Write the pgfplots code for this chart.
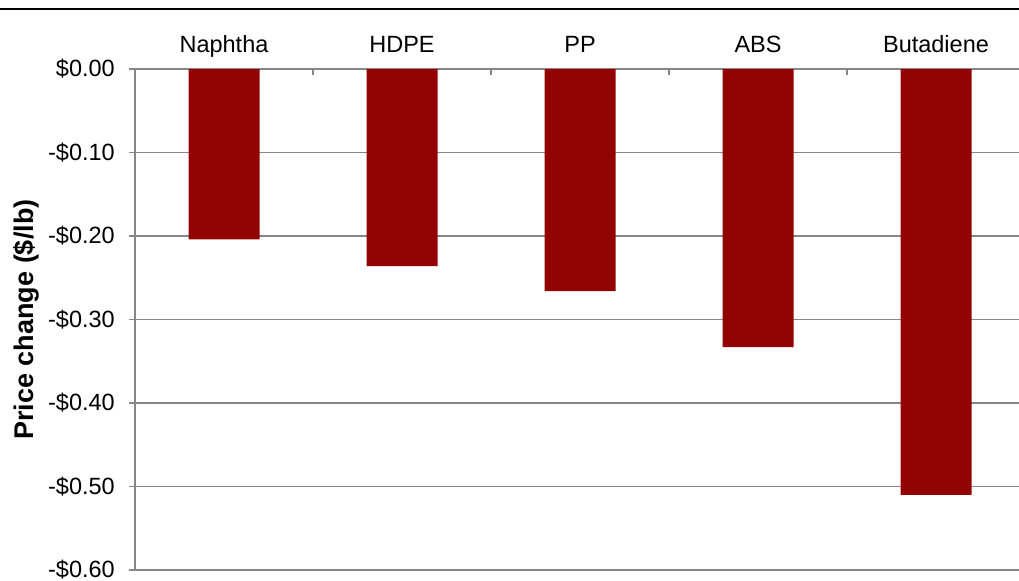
\documentclass[border=0pt]{standalone}
\usepackage{pgfplots}
\pgfplotsset{compat=1.18}
\usepackage{fontspec}
\setmainfont{Liberation Sans}
\definecolor{barred}{RGB}{146,4,4}
\definecolor{gridgray}{RGB}{134,134,134}

\begin{document}
\begin{tikzpicture}[x=1bp,y=1bp]
\useasboundingbox (0,0) rectangle (1019,-581);
\begin{scope}
\clip (0,0) rectangle (1019,-581);
% rule above the chart
\draw[black, line width=2.3bp] (0,-9.3) -- (1019,-9.3);
\begin{axis}[
  at={(135bp,-570bp)}, anchor=south west,
  scale only axis, width=890bp, height=501bp,
  xmin=-0.5, xmax=4.5, ymin=-0.6, ymax=0,
  axis x line*=top, axis y line*=left,
  axis line style={-, gridgray, line width=1.8bp},
  tick align=inside,
  major tick length=0pt, minor tick length=6bp,
  xtick={0,1,2,3,4},
  xticklabels={Naphtha,HDPE,PP,ABS,Butadiene},
  minor xtick={0.5,1.5,2.5,3.5},
  ytick={-0.6,-0.5,-0.4,-0.3,-0.2,-0.1,0},
  yticklabels={-\$0.60,-\$0.50,-\$0.40,-\$0.30,-\$0.20,-\$0.10,\$0.00},
  minor ytick={-0.6,-0.5,-0.4,-0.3,-0.2,-0.1,0},
  every minor y tick/.append style={xshift=-6bp},
  minor tick style={gridgray, line width=1.8bp},
  ymajorgrids, xmajorgrids=false, minor grid style={draw=none},
  major grid style={gridgray, line width=1.8bp},
  tick label style={font=\fontsize{23.5bp}{28bp}\selectfont},
  xticklabel style={anchor=base, inner sep=0pt, yshift=17bp},
  yticklabel style={anchor=east, inner sep=0pt, xshift=-20bp},
  ylabel={Price change (\$/lb)},
  every axis y label/.style={at={(axis description cs:-0.1225,0.5)},
    rotate=90, anchor=center,
    font=\fontsize{27bp}{32bp}\selectfont\bfseries},
]
\addplot[ybar, bar width=71bp, fill=barred, draw=none]
  coordinates {(0,-0.204) (1,-0.236) (2,-0.266) (3,-0.333) (4,-0.510)};
\end{axis}
\end{scope}
\end{tikzpicture}
\end{document}
